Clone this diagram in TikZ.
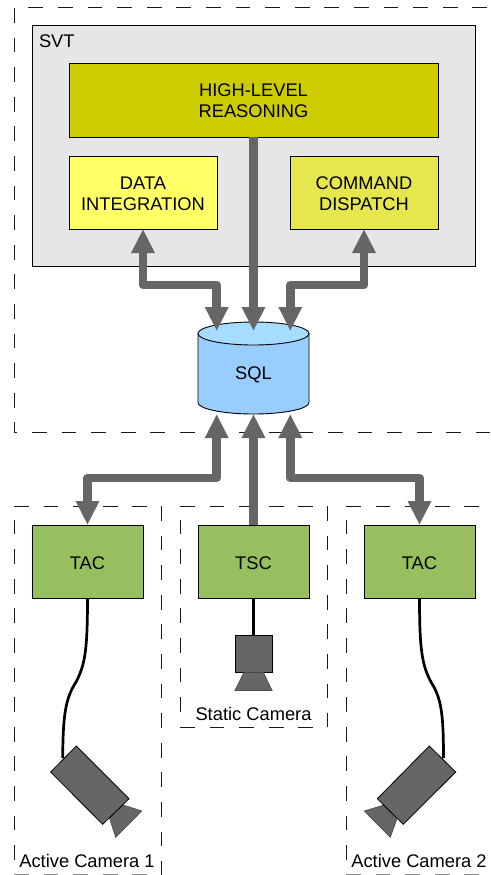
\documentclass[tikz,border=0pt]{standalone}
\usepackage{fontspec}
\setmainfont{Liberation Sans}
\usetikzlibrary{arrows.meta,calc}
\definecolor{svtgray}{HTML}{E6E6E6}
\definecolor{hlr}{HTML}{CCCC00}
\definecolor{dataY}{HTML}{FFFF66}
\definecolor{cmdY}{HTML}{E6E64D}
\definecolor{tacG}{HTML}{97BF60}
\definecolor{sqlB}{HTML}{99CCFF}
\definecolor{sqlT}{HTML}{A6DDFF}
\definecolor{pipe}{HTML}{666666}
\tikzset{
  x=1pt,y=-1pt,
  every node/.style={font=\fontsize{18.3}{20.8}\selectfont,text=black,inner sep=0pt,outer sep=0pt},
  block/.style={draw=black,line width=1pt,align=center,minimum width=#1,minimum height=73pt},
  pipeline/.style={draw=pipe,line width=8.7pt,line join=round,{Triangle[width=22pt,length=24pt]}-{Triangle[width=22pt,length=24pt]}},
  pipeone/.style={draw=pipe,line width=8.7pt,-{Triangle[width=22pt,length=24pt]}},
  wire/.style={draw=black,line width=2.7pt},
  cam/.style={draw=black,line width=0.8pt,fill=pipe,line join=miter},
  lens/.style={draw=black!70,line width=0.7pt,fill=pipe},
  dashbase/.style={draw=black!90,line width=1pt,dash pattern=on 14.8pt off 14.8pt,dash phase=#1},
}
\begin{document}
\begin{tikzpicture}
\useasboundingbox (0,0) rectangle (490,875);
\fill[white] (0,0) rectangle (490,875);
% dashed regions
\draw[dashbase=0] (14,8) -- (14,432);
\draw[dashbase=15.3] (14,8) -- (490,8);
\draw[dashbase=11.6] (14,432) -- (490,432);
\draw[dashbase=0] (14,506) -- (161,506);
\draw[dashbase=16.1] (14,506) -- (14,875);
\draw[dashbase=0] (161,506) -- (161,875);
\draw[dashbase=0,draw=black!45] (14,874.5) -- (161,874.5);
\draw[dashbase=0] (180,506) -- (327,506);
\draw[dashbase=16.1] (180,506) -- (180,727);
\draw[dashbase=0] (327,506) -- (327,727);
\draw[dashbase=0] (180,727) -- (327,727);
\draw[dashbase=0] (346,506) -- (490,506);
\draw[dashbase=16.1] (346,506) -- (346,875);
\draw[dashbase=0,draw=black!45] (346,874.5) -- (490,874.5);
% SVT
\node[draw=black,line width=1pt,fill=svtgray,minimum width=443pt,minimum height=240pt] (svt) at (253.5,146) {};
\node[anchor=west] (svtlabel) at (39,41) {SVT};
\node[block=369pt,fill=hlr] (high) at (253.5,100.5) {HIGH-LEVEL\\REASONING};
\node[block=148pt,fill=dataY] (data) at (143,192.5) {\rule{0pt}{15.5pt}DATA\\INTEGRATION};
\node[block=148pt,fill=cmdY] (cmd) at (364,192.5) {\rule{0pt}{15.5pt}COMMAND\\DISPATCH};
% SQL
\node[minimum width=111pt,minimum height=92pt] (sql) at (253.5,368) {};
\path[draw=black,line width=0.9pt,fill=sqlB] (sql.west |- 0,333.5) -- (sql.west |- 0,402.5)
  arc[start angle=180,end angle=360,x radius=55.5,y radius=-11.5] -- (sql.east |- 0,333.5) -- cycle;
\path[draw=black,line width=0.9pt,fill=sqlT] (253.5,333.5) ellipse[x radius=55.5,y radius=11.5];
\node at (253.5,374.5) (sqltext) {SQL};
% lower agents
\node[block=111pt,fill=tacG] (tac1) at (87.5,561.5) {\rule{0pt}{16pt}TAC};
\node[block=111pt,fill=tacG] (tsc) at (253.5,561.5) {\rule{0pt}{16pt}TSC};
\node[block=111pt,fill=tacG] (tac2) at (419.5,561.5) {\rule{0pt}{16pt}TAC};
% pipes
\coordinate (sqlTL) at ($(sql.north)+(-36.8,9)$);
\coordinate (sqlTC) at ($(sql.north)+(0,9)$);
\coordinate (sqlTR) at ($(sql.north)+(36.8,9)$);
\coordinate (sqlBL) at ($(sql.south)+(-36.8,0)$);
\coordinate (sqlBR) at ($(sql.south)+(36.8,0)$);
\draw[pipeline] (data.south) -- (data.south |- 0,285) -- (sqlTL |- 0,285) -- (sqlTL);
\draw[pipeline] (cmd.south) -- (cmd.south |- 0,285) -- (sqlTR |- 0,285) -- (sqlTR);
\draw[pipeone] (high.south) -- (sqlTC);
\draw[pipeline] (tac1.north) -- (tac1.north |- 0,478) -- (sqlBL |- 0,478) -- (sqlBL);
\draw[pipeline] (tac2.north) -- (tac2.north |- 0,478) -- (sqlBR |- 0,478) -- (sqlBR);
\draw[pipeone] (tsc.north) -- (sql.south);
% static camera
\node[draw=black,line width=0.8pt,fill=pipe,minimum width=37pt,minimum height=37pt] (staticcam) at (253.5,653.8) {};
\draw[wire] (tsc.south) -- (staticcam.north);
\path[lens] (244,672.3) -- (263.3,672.3) -- (272,690.5) -- (235,690.5) -- cycle;
\node (staticlabel) at (253.5,714) {Static Camera};
% active camera 1
\coordinate (cam1end) at (62.7,758);
\draw[wire] (tac1.south) .. controls (87.5,650) and (85,665) .. (76,682) .. controls (66,698) and (63,712) .. (cam1end);
\path[lens] (109.5,818) -- (123.3,805) -- (141.7,811) -- (115.7,837.3) -- cycle;
\path[cam] (76.3,746) -- (129,798.7) -- (102.7,824.3) -- (50.7,772) -- cycle;
\node (label1) at (87,861) {Active Camera 1};
% active camera 2
\coordinate (cam2end) at (443.5,758);
\draw[wire] (tac2.south) .. controls (419.5,650) and (422,665) .. (431,682) .. controls (441,698) and (443.5,712) .. (cam2end);
\path[lens] (396.7,819.3) -- (384,805) -- (364.3,811) -- (390.3,837.3) -- cycle;
\path[cam] (429.3,746) -- (455.7,772) -- (403.3,824.3) -- (377.3,798.7) -- cycle;
\node (label2) at (419,861) {Active Camera 2};
\end{tikzpicture}
\end{document}
